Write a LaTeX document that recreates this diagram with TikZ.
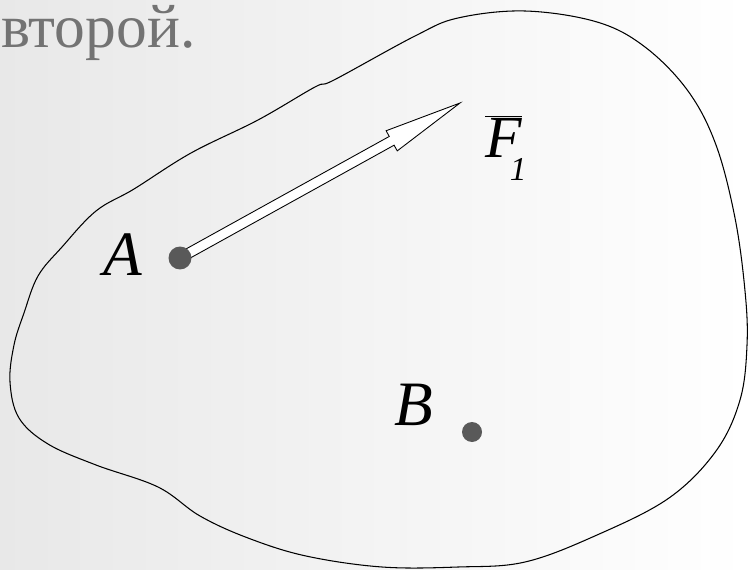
\documentclass[tikz,border=0pt]{standalone}
\usepackage{fontspec}
\setmainfont{LiberationSerif}[Extension=.ttf, UprightFont=*-Regular, ItalicFont=*-Italic, BoldFont=*-Bold]
\usetikzlibrary{calc}

\tikzset{
  pointdot/.style={circle, fill=black!65, inner sep=0pt, minimum size=#1},
  ptlabel/.style={font=\fontsize{36}{42}\selectfont\itshape, inner sep=0pt},
}

\begin{document}
\begin{tikzpicture}[x=0.02cm, y=-0.02cm]
    % фон
    \shade[left color=black!9, middle color=white, right color=white] (0,0) rectangle (749,570);
    \useasboundingbox (0,0) rectangle (749,570);

    % текст сверху
    \node[anchor=base west, text=black!55, font=\fontsize{35}{40}\selectfont, inner sep=0pt] (word) at (1,48) {второй.};

    % тело
    \draw[line width=0.6pt] plot[smooth cycle, tension=0.6] coordinates {
        (525,11) (597,22) (645,47) (688,91) (716,145) (735,218) (745,291)
        (747,345) (740,400) (716,451) (669,498) (597,535) (525,562) (458,567)
        (382,567) (306,556) (248,538) (200,516) (158,487) (96,465) (48,444)
        (19,418) (10,382) (14,345) (24,313) (38,276) (62,247) (96,211)
        (134,189) (191,153) (258,120) (315,87) (334,80) (415,36) (458,18)};

    % точки
    \coordinate (ptA) at (180,258);
    \coordinate (tip) at (460,103);
    \coordinate (head) at ($(ptA)!0.756!(tip)$);

    % сила F1
    \draw[line width=0.5pt, fill=white]
        ($(ptA)!0.1cm!90:(tip)$) -- ($(head)!0.1cm!-90:(ptA)$)
        -- ($(head)!0.23cm!-90:(ptA)$) -- (tip)
        -- ($(head)!0.23cm!90:(ptA)$) -- ($(head)!0.1cm!90:(ptA)$)
        -- ($(ptA)!0.1cm!-90:(tip)$) -- cycle;

    \node[pointdot=0.46cm] (dotA) at (ptA) {};
    \node[pointdot=0.4cm] (dotB) at (472,432) {};

    % подписи
    \node[ptlabel] (labA) at (123,255) {A};
    \node[ptlabel] (labB) at (414,405) {B};
    \node[font=\fontsize{34}{40}\selectfont, inner sep=0pt, anchor=base west] (labF) at (485,158)
        {$\overline{\mbox{\itshape F}}$\kern-0.2em\raisebox{-0.38em}{\fontsize{19}{21}\selectfont\itshape 1}};
\end{tikzpicture}
\end{document}
